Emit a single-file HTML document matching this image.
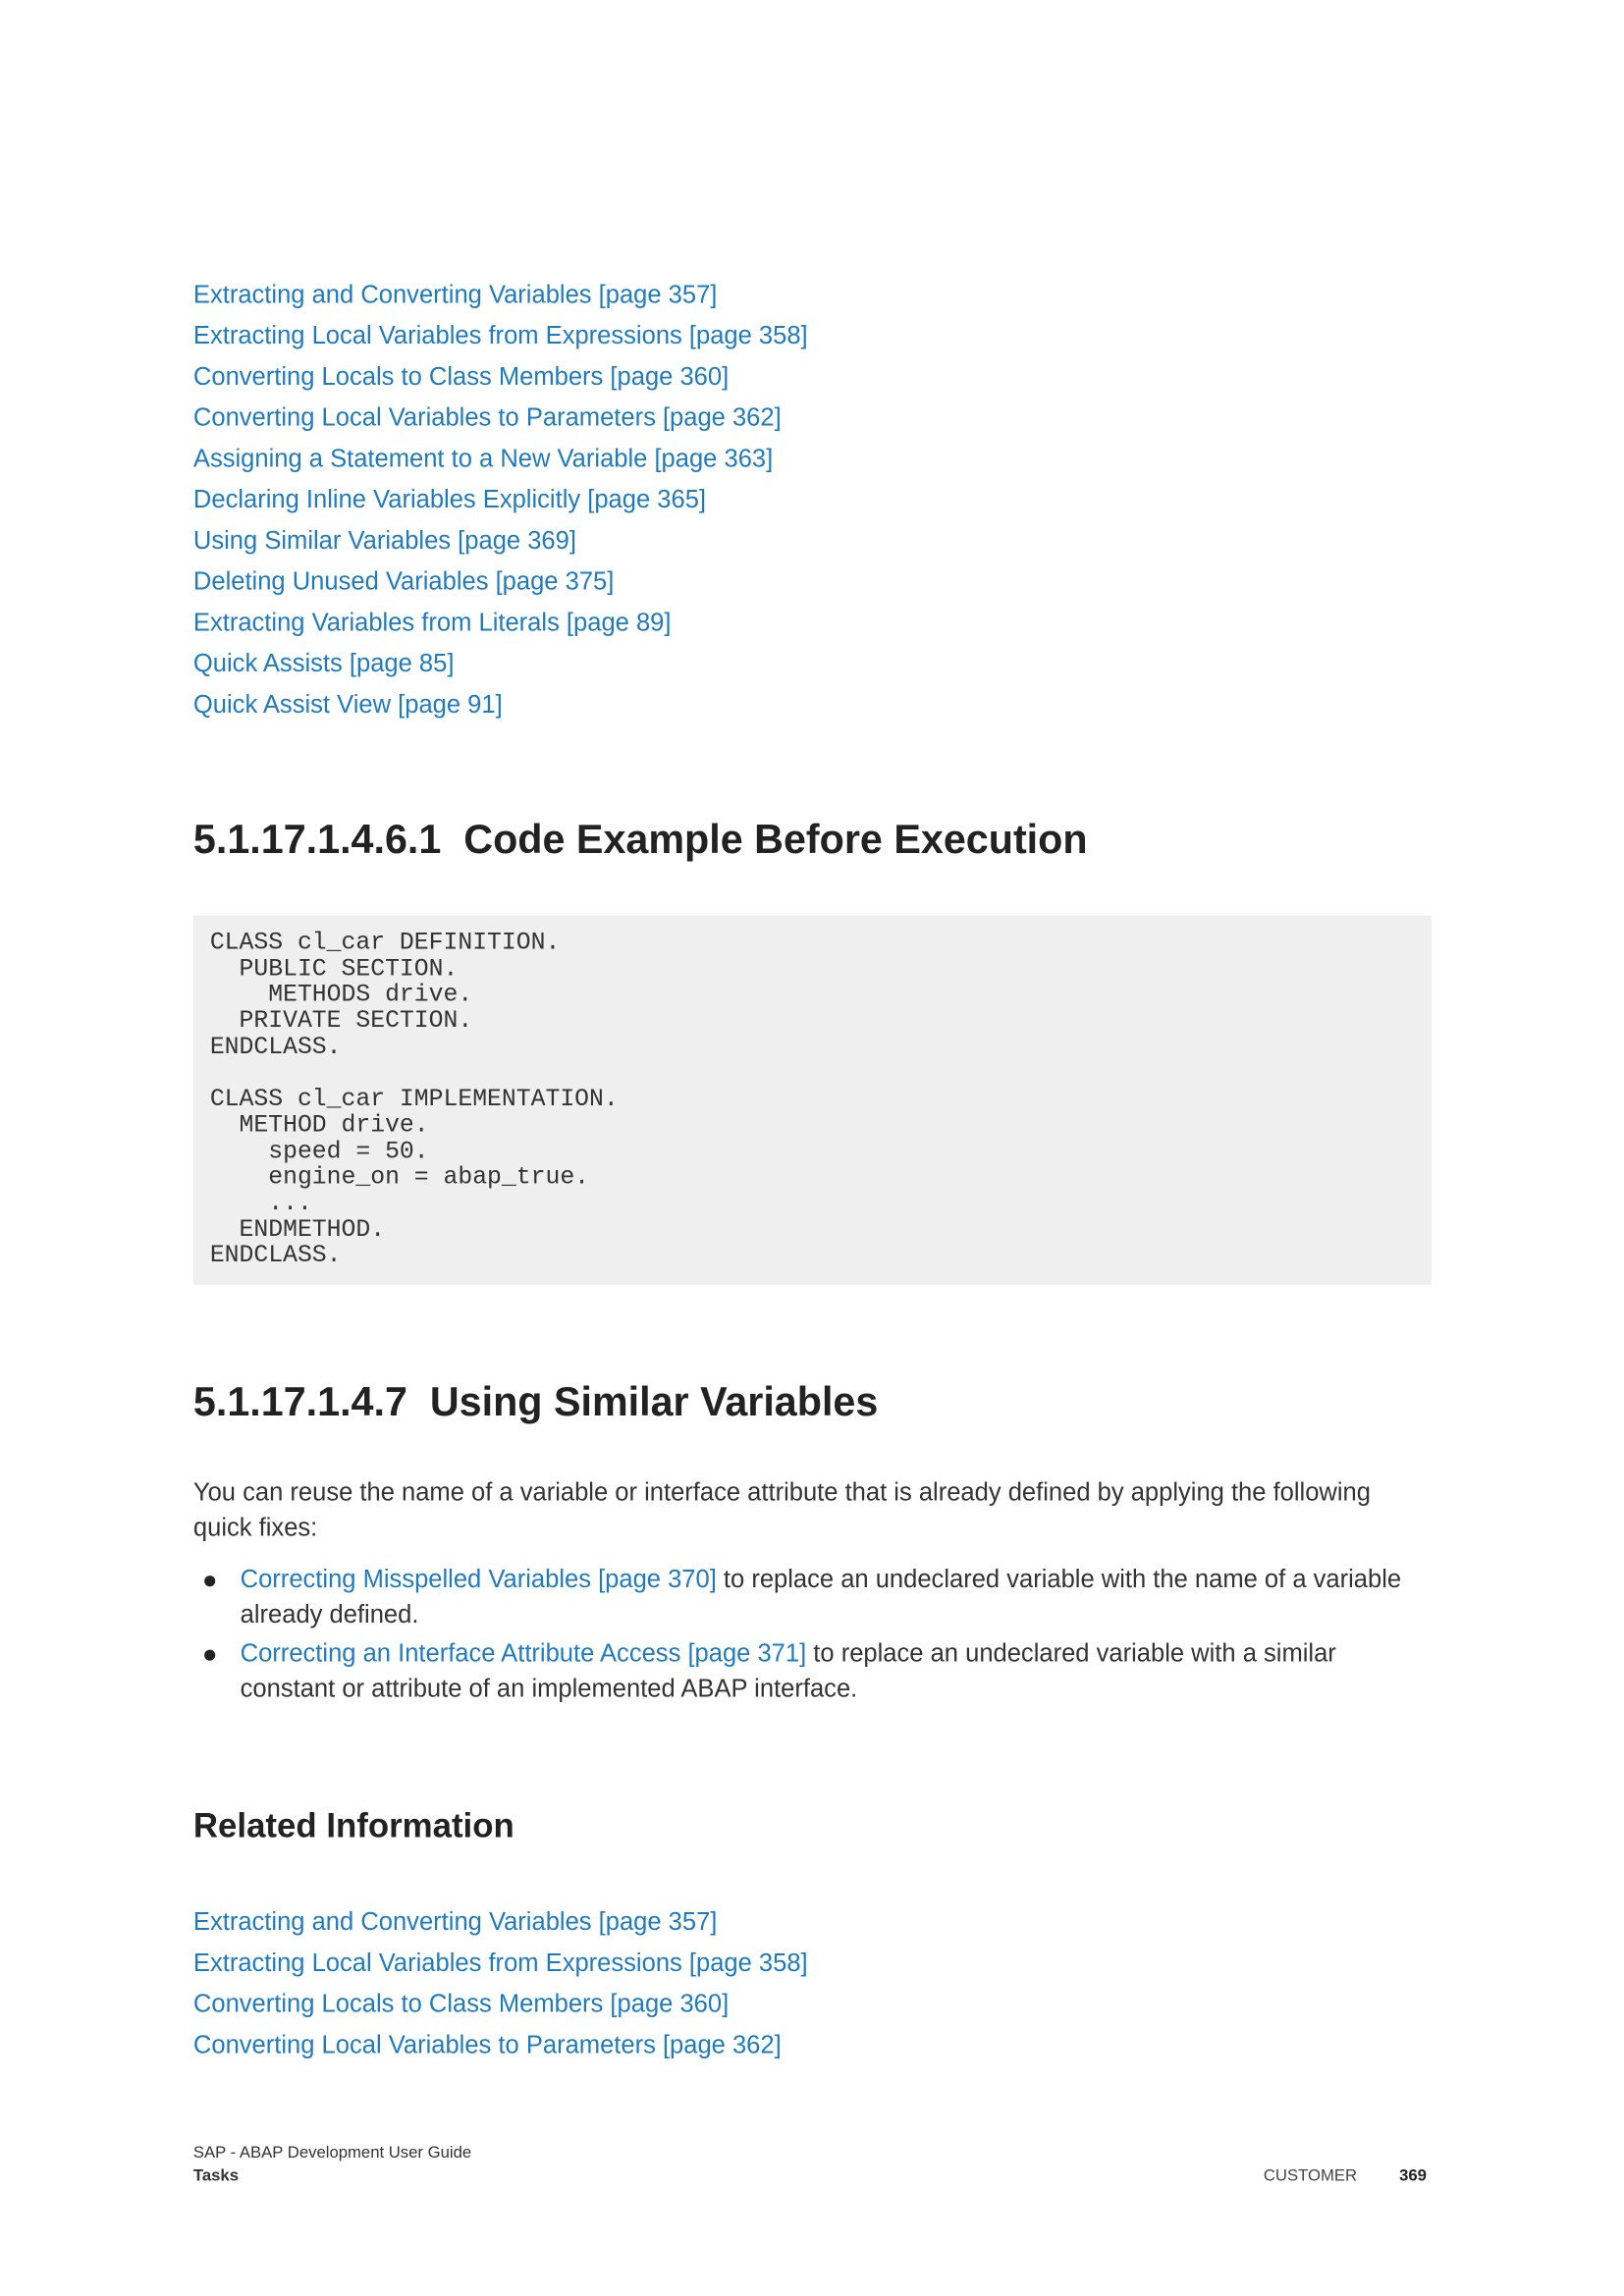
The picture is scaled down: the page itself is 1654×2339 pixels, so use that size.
<!DOCTYPE html>
<html><head><meta charset="utf-8"><style>
body{margin:0;width:1654px;height:2339px;background:#fff;position:relative;overflow:hidden;font-family:"Liberation Sans",sans-serif;color:#222;}
#w{position:absolute;left:0;top:0;width:1654px;height:2339px;transform:scale(0.9945);transform-origin:0 0;}
.a{position:absolute;left:198px;}
.lk{color:#1f7bc1;font-size:25.7px;line-height:42px;white-space:nowrap;}
h1,h3{margin:0;position:absolute;left:198px;font-weight:bold;white-space:nowrap;color:#222;}
h1{font-size:41.5px;line-height:50px;}
h3{font-size:35px;line-height:40px;}
.code{position:absolute;left:198px;top:938px;width:1268px;height:378px;background:#efefef;}
pre{margin:0;position:absolute;left:17px;top:15px;font-family:"Liberation Mono",monospace;font-size:24.9px;line-height:26.7px;color:#333;}
.p{font-size:25.7px;line-height:36px;color:#333;white-space:nowrap;}
.blue{color:#1f7bc1;}
.bul{position:absolute;left:207px;font-size:26px;}
</style></head><body><div id="w">
<div class="a lk" style="top:281px">
Extracting and Converting Variables [page 357]<br>
Extracting Local Variables from Expressions [page 358]<br>
Converting Locals to Class Members [page 360]<br>
Converting Local Variables to Parameters [page 362]<br>
Assigning a Statement to a New Variable [page 363]<br>
Declaring Inline Variables Explicitly [page 365]<br>
Using Similar Variables [page 369]<br>
Deleting Unused Variables [page 375]<br>
Extracting Variables from Literals [page 89]<br>
Quick Assists [page 85]<br>
Quick Assist View [page 91]</div>
<h1 style="top:835px">5.1.17.1.4.6.1&nbsp; Code Example Before Execution</h1>
<div class="code"><pre>CLASS cl_car DEFINITION.
  PUBLIC SECTION.
    METHODS drive.
  PRIVATE SECTION.
ENDCLASS.

CLASS cl_car IMPLEMENTATION.
  METHOD drive.
    speed = 50.
    engine_on = abap_true.
    ...
  ENDMETHOD.
ENDCLASS.</pre></div>
<h1 style="top:1411px">5.1.17.1.4.7&nbsp; Using Similar Variables</h1>
<div class="a p" style="top:1511px">You can reuse the name of a variable or interface attribute that is already defined by applying the following<br>quick fixes:</div>
<div class="bul" style="top:1600px;line-height:36px">●</div>
<div class="a p" style="left:246px;top:1600px"><span class="blue">Correcting Misspelled Variables [page 370]</span> to replace an undeclared variable with the name of a variable<br>already defined.</div>
<div class="bul" style="top:1676px;line-height:36px">●</div>
<div class="a p" style="left:246px;top:1676px"><span class="blue">Correcting an Interface Attribute Access [page 371]</span> to replace an undeclared variable with a similar<br>constant or attribute of an implemented ABAP interface.</div>
<h3 style="top:1851px">Related Information</h3>
<div class="a lk" style="top:1948px">
Extracting and Converting Variables [page 357]<br>
Extracting Local Variables from Expressions [page 358]<br>
Converting Locals to Class Members [page 360]<br>
Converting Local Variables to Parameters [page 362]</div>
<div class="a" style="top:2193px;font-size:16.8px;line-height:24px;color:#333">SAP - ABAP Development User Guide<br><b>Tasks</b></div>
<div style="position:absolute;left:1294px;top:2217px;font-size:16.8px;line-height:24px;color:#444">CUSTOMER</div>
<div style="position:absolute;left:1433px;top:2217px;font-size:16.8px;line-height:24px;font-weight:bold">369</div>
</div></body></html>
